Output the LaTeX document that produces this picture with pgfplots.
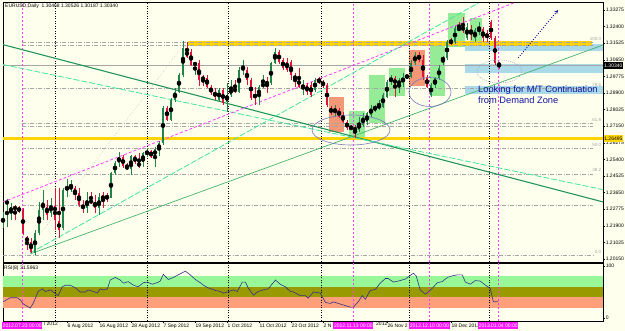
\documentclass[border=0pt]{standalone}
\usepackage{pgfplots}
\pgfplotsset{compat=1.18}
\usepackage{pgfplotstable}
\usepackage{fontspec}
\setmainfont{Liberation Sans}
\usetikzlibrary{arrows.meta}
\definecolor{bg}{RGB}{255,255,238}
\definecolor{upc}{RGB}{34,130,72}
\definecolor{dnc}{RGB}{220,20,60}
\definecolor{boxgreen}{RGB}{150,236,150}
\definecolor{boxsalmon}{RGB}{242,152,118}
\definecolor{zoneblue}{RGB}{170,218,232}
\definecolor{gold}{RGB}{255,212,0}
\definecolor{dkgreen}{RGB}{34,150,90}
\definecolor{aqua}{RGB}{64,230,160}
\definecolor{medgreen}{RGB}{70,180,110}
\definecolor{magline}{RGB}{255,60,255}
\definecolor{navytxt}{RGB}{20,20,160}
\definecolor{ellc}{RGB}{120,120,190}
\definecolor{fibc}{RGB}{165,165,165}
\definecolor{rsiline}{RGB}{50,50,140}
\definecolor{rsigreen}{RGB}{152,248,152}
\definecolor{rsiolive}{RGB}{153,153,0}
\definecolor{rsisalmon}{RGB}{255,160,122}
\definecolor{magbox}{RGB}{250,20,250}
\newcommand{\sfive}{\fontsize{5}{6}\selectfont}
\tikzset{fiblab/.style={anchor=south east, text=fibc, inner sep=0pt, yshift=1.6pt, font=\fontsize{4.5}{5}\selectfont}}

\pgfplotstableread{
k o h l c
0 1.21944 1.22630 1.21786 1.22419
1 1.23104 1.23315 1.21839 1.23157
2 1.22630 1.23104 1.22208 1.22893
8 1.20469 1.21681 1.20363 1.21523
9 1.21523 1.23157 1.21417 1.22735
10 1.22735 1.23789 1.22208 1.23157
12 1.22577 1.23367 1.22366 1.22998
15 1.21786 1.23894 1.21681 1.23789
16 1.23789 1.24369 1.23420 1.23947
17 1.23894 1.24316 1.23684 1.23947
21 1.22840 1.23684 1.22577 1.23262
24 1.22840 1.23631 1.22471 1.23420
27 1.23367 1.24738 1.23367 1.24685
28 1.24685 1.25317 1.24579 1.25212
29 1.25212 1.25792 1.25001 1.25528
32 1.24896 1.25633 1.24579 1.25581
35 1.25265 1.25792 1.25001 1.25739
36 1.25633 1.26002 1.25528 1.25844
38 1.25581 1.26055 1.25001 1.25950
39 1.25897 1.26371 1.25581 1.26266
40 1.26266 1.28216 1.26160 1.28110
42 1.27478 1.28637 1.27425 1.28532
43 1.28532 1.29164 1.28427 1.28954
44 1.28954 1.29955 1.28901 1.29849
45 1.29849 1.31641 1.29744 1.31272
48 1.30376 1.30535 1.29849 1.30482
54 1.28532 1.29164 1.28427 1.29059
56 1.28427 1.29428 1.27900 1.28795
57 1.28795 1.29586 1.28690 1.29164
59 1.28954 1.30271 1.28901 1.30113
60 1.30113 1.30640 1.29849 1.30271
64 1.28690 1.29322 1.28268 1.29217
65 1.29217 1.29849 1.29164 1.29428
67 1.29428 1.30535 1.29322 1.30482
68 1.30482 1.31272 1.30429 1.31062
75 1.29164 1.29586 1.28795 1.29322
78 1.29059 1.29691 1.28954 1.29586
83 1.27847 1.28268 1.27636 1.28110
89 1.26951 1.27636 1.26846 1.27320
90 1.27214 1.27847 1.27109 1.27636
91 1.27373 1.27900 1.27214 1.27847
92 1.27741 1.28268 1.27636 1.28110
93 1.28058 1.28268 1.27900 1.28163
94 1.28110 1.28532 1.28005 1.28268
95 1.28163 1.28901 1.28110 1.28795
96 1.28690 1.29586 1.28637 1.29481
97 1.29586 1.29849 1.29322 1.29639
99 1.29428 1.29691 1.28901 1.29481
100 1.29428 1.29955 1.29217 1.29744
101 1.29744 1.29849 1.29691 1.29797
102 1.29744 1.30640 1.29691 1.30482
103 1.30482 1.31062 1.30376 1.30903
107 1.28795 1.29428 1.28690 1.29322
108 1.29322 1.29744 1.29164 1.29691
109 1.29691 1.30376 1.29586 1.30218
110 1.30640 1.30851 1.30376 1.30745
111 1.30745 1.31694 1.30640 1.31589
113 1.31589 1.32432 1.31483 1.32326
116 1.31799 1.32590 1.31694 1.32379
118 1.31799 1.32326 1.31589 1.32221
119 1.32116 1.32643 1.31957 1.32326
}\upcandles

\pgfplotstableread{
k o h l c
3 1.22893 1.22998 1.22208 1.22788
4 1.22840 1.22946 1.22577 1.22682
5 1.22735 1.22840 1.21417 1.21523
6 1.21312 1.21365 1.20627 1.21049
7 1.21049 1.21259 1.20469 1.20522
11 1.22893 1.23262 1.22208 1.22471
13 1.22946 1.23894 1.21681 1.22208
14 1.22155 1.23894 1.21259 1.21681
18 1.23894 1.24000 1.23262 1.23525
19 1.23631 1.23894 1.22893 1.22998
20 1.22998 1.23262 1.22577 1.22788
22 1.23262 1.23684 1.23051 1.23104
23 1.23157 1.23525 1.22577 1.22840
25 1.23525 1.23684 1.22840 1.23262
26 1.23473 1.23631 1.23157 1.23367
30 1.25528 1.25633 1.24948 1.25054
31 1.25054 1.25212 1.24843 1.24896
33 1.25581 1.25633 1.25159 1.25265
34 1.25265 1.25739 1.24948 1.25001
37 1.25844 1.25897 1.25475 1.25528
41 1.28110 1.28216 1.27425 1.27478
46 1.31167 1.31589 1.30745 1.30798
47 1.31062 1.31220 1.30324 1.30376
49 1.30482 1.30640 1.29270 1.29586
50 1.29691 1.29849 1.29270 1.29639
51 1.29691 1.29849 1.29164 1.29217
52 1.29217 1.29322 1.28795 1.28901
53 1.28954 1.29164 1.28532 1.28690
55 1.29059 1.29164 1.28268 1.28374
58 1.29164 1.29586 1.28901 1.28954
61 1.30113 1.30271 1.29322 1.29586
62 1.29586 1.29691 1.28532 1.28637
63 1.28795 1.29217 1.28268 1.28690
66 1.29481 1.29744 1.28901 1.29375
69 1.31062 1.31167 1.30429 1.30535
70 1.30640 1.30745 1.30113 1.30218
71 1.30535 1.30745 1.30008 1.30113
72 1.30535 1.30640 1.29586 1.29849
73 1.29797 1.29955 1.29217 1.29639
74 1.29691 1.30218 1.29164 1.29217
76 1.29322 1.29428 1.28795 1.28954
77 1.29322 1.29481 1.28690 1.28795
79 1.29586 1.29744 1.29375 1.29481
80 1.29481 1.29586 1.29164 1.29322
81 1.29322 1.29428 1.28163 1.28268
82 1.28110 1.28216 1.27741 1.27847
84 1.28005 1.28110 1.27583 1.27636
85 1.27741 1.27900 1.27320 1.27373
86 1.27373 1.27478 1.26951 1.27056
87 1.27109 1.27214 1.26951 1.27004
88 1.27056 1.27214 1.26529 1.26951
98 1.29691 1.29797 1.28690 1.29322
104 1.30903 1.31062 1.30535 1.30640
105 1.30640 1.30903 1.29586 1.29744
106 1.29744 1.29849 1.29164 1.29217
112 1.31641 1.31799 1.31430 1.31536
114 1.32326 1.32643 1.32168 1.32221
115 1.32379 1.32906 1.32063 1.32221
117 1.32221 1.32484 1.31694 1.32063
120 1.32274 1.32379 1.31589 1.31799
121 1.32063 1.32221 1.31589 1.31799
122 1.32643 1.32748 1.31694 1.31799
123 1.31799 1.31905 1.30376 1.30482
124 1.30468 1.30526 1.30187 1.30340
}\downcandles

\pgfplotstableread{
k rsi
0 31
1.8 39
3.5 39
4.3 35
5.1 27
6.8 19
7.6 29
8.8 51
9.8 56
10.6 51
11.8 54
12.6 50
13.8 43
14.8 60
15.6 63
16.8 63
18.1 58
19.3 50
20.6 50
21.3 54
22.6 51
23.6 48
24.3 56
25.1 54
26.1 56
26.8 73
28.1 78
29.3 73
30.1 67
31.3 70
32.6 63
33.8 60
35.1 68
36.1 69
37.3 65
38.6 68
39.3 71
40.1 84
41.3 74
42.6 78
43.8 83
45.6 90
46.8 83
48.1 74
49.3 68
50.1 63
51.3 58
53.1 53
54.3 51
55.1 48
56.1 50
57.6 54
58.6 51
59.8 69
60.6 69
61.3 58
62.6 44
63.8 51
65.1 54
66.3 56
68.1 73
69.3 65
70.6 60
71.8 51
72.6 50
74.3 43
75.6 43
76.3 38
77.6 50
79.3 48
80.6 30
81.8 28
82.6 31
83.8 28
85.1 25
86.8 21
87.6 21
88.8 31
89.8 43
90.6 36
91.8 53
93.1 55
94.3 67
95.6 76
96.3 76
97.6 69
99.3 72
100.6 75
101.3 79
102.6 86
103.3 81
104.3 54
105.6 46
106.3 50
107.3 57
108.6 68
109.8 70
111.1 78
112.3 81
113.6 83
114.8 83
115.6 69
116.8 65
118.1 72
119.3 71
120.6 63
121.8 57
122.6 31
123.8 31.6
}\rsidata

\begin{document}
\begin{tikzpicture}
\path[fill=bg, use as bounding box] (0pt,0pt) rectangle (625pt,331pt);

\begin{axis}[
  at={(3pt,69pt)}, anchor=south west, scale only axis,
  width=600pt, height=260pt,
  xmin=0, xmax=150, ymin=1.19995, ymax=1.33697,
  axis line style={black, line width=0.6pt},
  xtick=\empty,
  ytick={1.2015,1.21025,1.219,1.22775,1.2365,1.24525,1.254,1.26275,1.2715,1.28025,1.289,1.29775,1.3065,1.31525,1.324,1.33275},
  yticklabels={1.20150,1.21025,1.21900,1.22775,1.23650,1.24525,1.25400,1.26275,1.27150,1.28025,1.28900,1.29775,1.30650,1.31525,1.32400,1.33275},
  ytick pos=right, yticklabel pos=right,
  tick align=outside, major tick length=2pt,
  tick style={black, line width=0.4pt},
  yticklabel style={font=\sfive, inner sep=0.6pt},
  /pgf/number format/assume math mode=true,
]
% demand / supply zones
\fill[zoneblue] (axis cs:115.5,1.31483) rectangle (axis cs:150,1.31114);
\fill[zoneblue] (axis cs:115.5,1.30429) rectangle (axis cs:150,1.29955);
\fill[zoneblue] (axis cs:115.5,1.29270) rectangle (axis cs:150,1.28848);
% boxes
\fill[boxsalmon] (axis cs:81.5,1.28690) rectangle (axis cs:85.25,1.26846);
\fill[boxgreen] (axis cs:86.5,1.27952) rectangle (axis cs:90.5,1.26582);
\fill[boxgreen] (axis cs:91.5,1.29849) rectangle (axis cs:95.5,1.27320);
\fill[boxgreen] (axis cs:96.5,1.30218) rectangle (axis cs:100.5,1.28743);
\fill[boxsalmon] (axis cs:101.5,1.31167) rectangle (axis cs:105.5,1.29270);
\fill[boxgreen] (axis cs:106.75,1.31589) rectangle (axis cs:110.5,1.28743);
\fill[boxgreen] (axis cs:111.25,1.33117) rectangle (axis cs:115.5,1.31325);
\fill[boxgreen] (axis cs:116.75,1.32853) rectangle (axis cs:119.75,1.31589);
% horizontal levels
\addplot[gold, line width=2.5pt] coordinates {(0,1.26495) (150,1.26495)};
\addplot[gold, line width=4.5pt] coordinates {(46.3,1.3152) (147.3,1.3152)};
\pgfplotsinvokeforeach{1.31562,1.31430,1.29167,1.27284,1.27162,1.25963,1.24641,1.22986}{
  \addplot[fibc, line width=0.6pt, dash pattern=on 4pt off 1.5pt on 1pt off 1.5pt] coordinates {(4.8,#1) (147.5,#1)};
}
\addplot[fibc, line width=0.6pt, dash pattern=on 4pt off 1.5pt on 1pt off 1.5pt] coordinates {(0,1.20363) (147.5,1.20363)};
\addplot[black!35, line width=0.6pt] coordinates {(0,1.3034) (150,1.3034)};
% vertical separators
\pgfplotsinvokeforeach{13.1,36.1,56.3,79.6,101.6,121.6}{
  \draw[black, line width=0.5pt, dash pattern=on 1pt off 1.5pt] (axis cs:#1,1.19995) -- (axis cs:#1,1.33697);
}
\pgfplotsinvokeforeach{4.8,87.6,106.6,123.8}{
  \draw[magline, line width=0.7pt, dash pattern=on 2pt off 2pt] (axis cs:#1,1.19995) -- (axis cs:#1,1.33697);
}
% trend lines
\addplot[dkgreen, line width=1.1pt] coordinates {(0,1.3145) (150,1.2316)};
\addplot[aqua, line width=0.8pt, dash pattern=on 6pt off 2pt] coordinates {(0,1.3040) (150,1.2381)};
\addplot[magline, line width=0.8pt, dash pattern=on 3pt off 2pt] coordinates {(0,1.2316) (127.6,1.3364)};
\addplot[aqua, line width=0.8pt, dash pattern=on 6pt off 2pt] coordinates {(6.8,1.2047) (118.8,1.3364)};
\addplot[medgreen, line width=0.7pt] coordinates {(6.8,1.2042) (150,1.3143)};
\addplot[black!25, line width=0.6pt, dotted] coordinates {(5.6,1.2042) (45.8,1.3164)};
% candles
\addplot[only marks, mark=none, error bars/.cd, y dir=both, y explicit, error mark=none,
  error bar style={draw=upc, line width=0.5pt}]
  table[x=k, y expr={(\thisrow{h}+\thisrow{l})/2}, y error expr={(\thisrow{h}-\thisrow{l})/2}] {\upcandles};
\addplot[only marks, mark=none, error bars/.cd, y dir=both, y explicit, error mark=none,
  error bar style={draw=dnc, line width=0.5pt}]
  table[x=k, y expr={(\thisrow{h}+\thisrow{l})/2}, y error expr={(\thisrow{h}-\thisrow{l})/2}] {\downcandles};
\addplot[only marks, mark=none, error bars/.cd, y dir=both, y explicit, error mark=none,
  error bar style={draw=upc, line width=2.8pt, line cap=butt}]
  table[x=k, y expr={(\thisrow{o}+\thisrow{c})/2}, y error expr={max(abs(\thisrow{c}-\thisrow{o})/2,0.00028)}] {\upcandles};
\addplot[only marks, mark=none, error bars/.cd, y dir=both, y explicit, error mark=none,
  error bar style={draw=dnc, line width=2.8pt, line cap=butt}]
  table[x=k, y expr={(\thisrow{o}+\thisrow{c})/2}, y error expr={max(abs(\thisrow{c}-\thisrow{o})/2,0.00028)}] {\downcandles};
% annotations
\draw[ellc, line width=0.6pt] (axis cs:87,1.26951) ellipse [x radius=39pt, y radius=15pt];
\draw[ellc, line width=0.6pt] (axis cs:106.75,1.28954) ellipse [x radius=21pt, y radius=14.5pt];
\draw[ellc!70, line width=0.6pt, dash pattern=on 1pt off 1.2pt] (axis cs:124.1,1.30034) ellipse [x radius=22.5pt, y radius=11.5pt];
\draw[navytxt, line width=0.9pt, dash pattern=on 1pt off 1.6pt, -{Stealth[length=4pt, width=3.5pt]}] (axis cs:128.8,1.3075) -- (axis cs:138.8,1.3328);
\node[anchor=west, text=navytxt, inner sep=0pt, font=\fontsize{9.3}{10}\selectfont] at (axis cs:118.75,1.29030) {Looking for M/T Continuation};
\node[anchor=west, text=navytxt, inner sep=0pt, font=\fontsize{9.3}{10}\selectfont] at (axis cs:118.75,1.28510) {from Demand Zone};
% fib labels
\node[fiblab] at (axis cs:149.6,1.31562) {100.0};
\node[fiblab] at (axis cs:149.6,1.29167) {78.6};
\node[fiblab] at (axis cs:149.6,1.27284) {61.8};
\node[fiblab] at (axis cs:149.6,1.25963) {50.0};
\node[fiblab] at (axis cs:149.6,1.24641) {38.2};
\node[fiblab] at (axis cs:149.6,1.20363) {0.0};
\coordinate (bidpt) at (axis cs:150,1.3034);
\coordinate (goldpt) at (axis cs:150,1.26495);
\end{axis}

\begin{axis}[
  at={(3pt,10pt)}, anchor=south west, scale only axis,
  width=600pt, height=58pt,
  xmin=0, xmax=150, ymin=-5.77, ymax=105.77,
  axis line style={black, line width=0.6pt},
  xtick={16,24,32,40,48,56,64,72,80,96,112},
  xticklabels={6 Aug 2012,16 Aug 2012,28 Aug 2012,7 Sep 2012,19 Sep 2012,1 Oct 2012,11 Oct 2012,23 Oct 2012,2 N,26 Nov 2,18 Dec 2012},
  xtick pos=bottom,
  xticklabel style={anchor=north west, inner sep=0pt, yshift=-1pt, xshift=0.5pt, font=\sfive},
  ytick={0,100}, ytick pos=right, yticklabel pos=right,
  yticklabel style={font=\sfive, inner sep=0.6pt},
  tick align=outside, major tick length=2pt,
  tick style={black, line width=0.4pt},
  /pgf/number format/assume math mode=true,
]
\fill[rsigreen] (axis cs:0,60) rectangle (axis cs:150,80);
\fill[rsiolive] (axis cs:0,40) rectangle (axis cs:150,60);
\fill[rsisalmon] (axis cs:0,20) rectangle (axis cs:150,40);
\pgfplotsinvokeforeach{13.1,36.1,56.3,79.6,101.6,121.6}{
  \draw[black, line width=0.5pt, dash pattern=on 1pt off 1.5pt] (axis cs:#1,-5.77) -- (axis cs:#1,105.77);
}
\pgfplotsinvokeforeach{4.8,87.6,106.6,123.8}{
  \draw[magline, line width=0.7pt, dash pattern=on 2pt off 2pt] (axis cs:#1,-5.77) -- (axis cs:#1,105.77);
}
\addplot[rsiline, line width=0.6pt] table[x=k, y=rsi] {\rsidata};
\end{axis}

% labels outside the plot areas
\node[anchor=west, inner sep=0pt, font=\sfive] at (5pt,325pt) {EURUSD,Daily\ \ 1.30468 1.30526 1.30187 1.30340};
\node[anchor=west, inner sep=0pt, font=\sfive] at (4pt,63pt) {RSI(8) 31.5963};
\node[anchor=west, fill=black, text=white, inner sep=0.6pt, minimum height=6.5pt, font=\sfive] at ([xshift=0.5pt]bidpt) {1.30340};
\node[anchor=west, fill=gold, text=black, inner sep=0.6pt, minimum height=6.5pt, font=\sfive] at ([xshift=0.5pt]goldpt) {1.26495};
\node[anchor=north west, inner sep=0pt, font=\sfive] at (44pt,9pt) {l 2012};
\node[anchor=north west, inner sep=0pt, font=\sfive] at (376pt,9pt) {2012};
\foreach \xx/\tt in {22.2/2012.07.23 00:00, 353.4/2012.11.13 00:00, 429.4/2012.12.10 00:00, 498.2/2013.01.04 00:00}{
  \node[fill=magbox, text=white, inner sep=0.8pt, minimum height=6.5pt, font=\sfive] at (\xx pt,5.5pt) {\tt};
}
\end{tikzpicture}
\end{document}
